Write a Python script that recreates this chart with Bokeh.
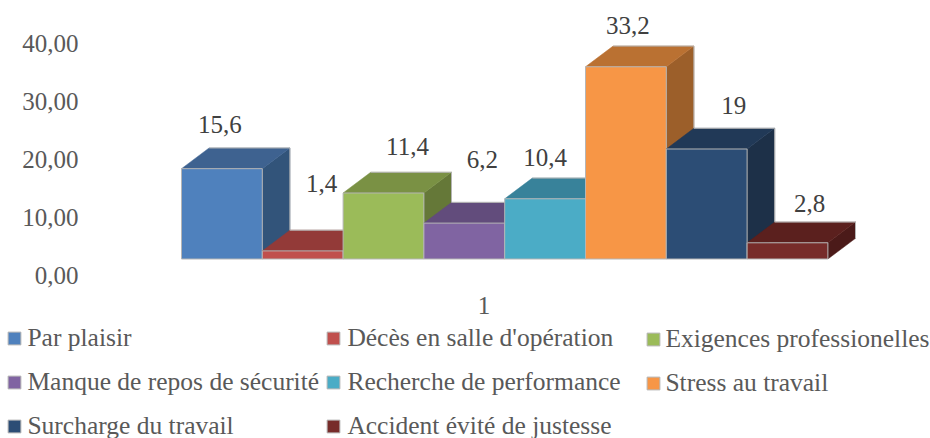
from bokeh.plotting import figure
from bokeh.embed import file_html
from bokeh.resources import INLINE
from bokeh.models import (ColumnDataSource, Range1d, LinearAxis, FixedTicker,
                          Legend, LegendItem)
from bokeh.core.properties import value

# ---- data ----
categories = ["Par plaisir", "Décès en salle d'opération", "Exigences professionelles",
              "Manque de repos de sécurité", "Recherche de performance", "Stress au travail",
              "Surcharge du travail", "Accident évité de justesse"]
values = [15.6, 1.4, 11.4, 6.2, 10.4, 33.2, 19, 2.8]
value_labels = ["15,6", "1,4", "11,4", "6,2", "10,4", "33,2", "19", "2,8"]
y_ticks = [0, 10, 20, 30, 40]
y_tick_labels = ["0,00", "10,00", "20,00", "30,00", "40,00"]
x_tick_label = ["1"]

# ---- styles ----
front = ["#4F81BD", "#C0504D", "#9BBB59", "#8064A2", "#4BACC6", "#F79646", "#2C4D75", "#772C2A"]
top_c = ["#3E6290", "#933A38", "#7A9144", "#624C7C", "#38829A", "#BA7132", "#213957", "#5B201E"]
side_c = ["#32547A", "#7B302E", "#657838", "#523F68", "#2E6C80", "#9C5F2A", "#1D3048", "#4B1A19"]
label_dx = [-2, 19, 24, 18, 0, 2, 27, 22]       # px from bar centre
label_dy = [44, 67, 46, 64, 41, 41, 43, 39]     # px above front top
FONT = "Liberation Serif"
FS = "25px"
LEG_FS = "25.5px"
AXIS_C = "#595959"
LABEL_C = "#404040"

# ---- layout (page px; the figure fills the window) ----
W, H = 930, 438
FL = 0
AXIS_RIGHT = 78
BAR_L, BAR_W = 181, 80.8
BASE_Y, PX_PER_UNIT = 258.5, 5.79
AXIS0_Y = 275
DX = 27.6 / BAR_W
DY = 20.7 / PX_PER_UNIT
TICK1_X = (483.5 - BAR_L) / BAR_W - 0.5
TICK1_Y = (BASE_Y - 305) / PX_PER_UNIT

p = figure(width=W, height=H, output_backend="svg", toolbar_location=None,
           x_range=Range1d((FL - BAR_L) / BAR_W - 0.5, (W - BAR_L) / BAR_W - 0.5),
           y_range=Range1d((BASE_Y - H) / PX_PER_UNIT, BASE_Y / PX_PER_UNIT),
           min_border_left=0, min_border_right=0, min_border_top=0,
           min_border_bottom=0, outline_line_color=None, x_axis_type=None, y_axis_type=None)
p.grid.visible = False

p.extra_y_ranges = {"ax": Range1d((AXIS0_Y - H) / PX_PER_UNIT, AXIS0_Y / PX_PER_UNIT)}
ya = LinearAxis(y_range_name="ax", ticker=FixedTicker(ticks=y_ticks),
                major_label_overrides=dict(zip(y_ticks, y_tick_labels)),
                axis_line_color=None, major_tick_line_color=None, minor_tick_line_color=None,
                major_tick_out=0, major_tick_in=0, major_label_standoff=-AXIS_RIGHT,
                major_label_text_font=FONT, major_label_text_font_size=FS,
                major_label_text_color=AXIS_C)
p.add_layout(ya, "left")

EDGE = "#b5b5b5"
bars = []
for i, v in enumerate(values):
    l, r = i - 0.5, i + 0.5
    p.patch([r, r + DX, r + DX, r], [0, DY, v + DY, v], fill_color=side_c[i],
            line_color=side_c[i], line_width=0.5)
    p.patch([l, r, r + DX, l + DX], [v, v, v + DY, v + DY], fill_color=top_c[i],
            line_color=top_c[i], line_width=0.5)
    # light silhouette of the back edges
    p.line([l + DX, r + DX, r + DX], [v + DY, v + DY, DY], line_color=EDGE, line_width=1)
    bars.append(p.vbar(x=[i], top=[v], bottom=0, width=1, fill_color=front[i],
                       line_color=EDGE, line_width=1))

src = ColumnDataSource(dict(x=list(range(len(values))), y=values, t=value_labels,
                            dx=label_dx, dy=[-d for d in label_dy]))
p.text(x="x", y="y", text="t", x_offset="dx", y_offset="dy", source=src,
       text_font=value(FONT), text_font_size=FS, text_color=LABEL_C,
       text_align="center", text_baseline="middle")
p.text(x=[TICK1_X], y=[TICK1_Y], text=x_tick_label,
       text_font=value(FONT), text_font_size=FS, text_color=AXIS_C,
       text_align="center", text_baseline="middle")

# ---- legend: three columns ----
ROW_Y = [339, 383.5, 426]
LH = 29
SWATCH = 16   # the swatch is drawn at 80 % of this box
cols = [([0, 3, 6], 6.4, 5), ([1, 4, 7], 325.4, 6), ([2, 5], 645.4, 4)]
for idx, x0, standoff in cols:
    bottom = ROW_Y[len(idx) - 1] + LH / 2
    leg = Legend(items=[LegendItem(label=categories[i], renderers=[bars[i]]) for i in idx],
                 location=(x0 - FL, H - bottom), orientation="vertical",
                 padding=0, margin=0, spacing=14, border_line_color=None,
                 background_fill_alpha=0, glyph_width=SWATCH, glyph_height=SWATCH,
                 label_standoff=standoff,
                 label_height=LH, label_text_font=FONT, label_text_font_size=LEG_FS,
                 label_text_color=AXIS_C, label_text_baseline="middle")
    p.add_layout(leg, "center")

open("out.html", "w").write(file_html(p, INLINE))
